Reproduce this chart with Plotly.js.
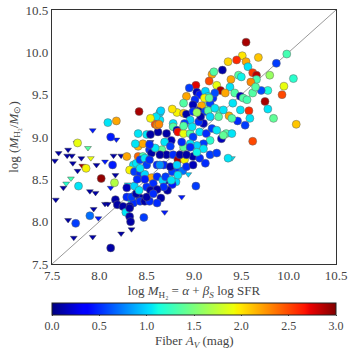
<!DOCTYPE html>
<html>
<head>
<meta charset="utf-8">
<script src="https://cdn.plot.ly/plotly-3.0.1.min.js"></script>
<style>
  html, body { margin: 0; padding: 0; background: #fff; }
  #chart { width: 354px; height: 354px; }
</style>
</head>
<body>
<div id="chart"></div>
<script>
// detections (circles): x = alpha + beta_S log SFR, y = log M_H2, colour = fiber A_V
const circX = [
  9.55, 9.51, 9.68, 9.45, 9.36, 9.55, 9.57, 9.98, 9.87, 9.30, 9.19, 9.21, 9.16, 9.02, 9.39, 9.47,
  9.50, 9.62, 9.66, 9.66, 9.60, 9.80, 10.05, 9.95, 9.78, 9.71, 9.93, 9.75, 9.78, 9.84, 10.08, 9.58,
  9.49, 9.62, 9.46, 9.54, 9.36, 9.24, 9.28, 9.38, 9.33, 8.95, 8.92, 9.03, 9.06, 9.12, 9.15, 9.20,
  9.22, 9.43, 9.49, 9.52, 9.56, 9.62, 9.65, 8.89, 9.01, 8.99, 9.06, 9.12, 9.17, 9.27, 9.37, 9.41,
  9.59, 9.08, 9.11, 9.16, 8.82, 8.77, 8.89, 8.92, 8.99, 9.05, 9.12, 9.15, 9.31, 9.17, 9.10, 9.05,
  8.96, 8.90, 8.78, 8.64, 8.64, 8.60, 8.59, 8.78, 8.62, 8.71, 8.82, 8.83, 8.89, 8.96, 8.99, 9.06,
  9.13, 9.19, 9.24, 9.34, 9.29, 9.40, 9.17, 9.10, 9.03, 8.96, 8.89, 8.87, 8.76, 8.69, 8.75, 8.66,
  8.53, 8.71, 8.78, 8.83, 8.90, 8.99, 9.06, 9.12, 9.17, 8.85, 8.82, 8.77, 8.88, 8.81, 8.70, 8.77,
  8.72, 8.65, 9.02, 8.68, 8.42, 8.54, 8.65, 8.09, 8.18, 8.12, 7.77, 8.50, 8.54, 8.61, 8.41, 8.46,
  8.29, 8.41, 8.46, 8.55, 8.64, 8.14, 7.86, 8.36, 8.39, 8.43, 8.48, 8.50, 8.53, 8.61, 8.32, 8.37,
  8.43, 8.48, 8.55, 8.61, 8.67, 8.70, 8.76, 8.57, 8.50, 8.54, 8.68, 8.61, 8.43, 8.34, 8.36, 8.43,
  8.48, 8.53, 8.61, 8.32, 8.02, 8.16, 7.78, 7.90, 7.75, 8.12, 8.47, 8.17, 8.19, 8.25, 8.28, 8.32,
  8.32, 8.33, 8.29, 8.34, 8.39, 8.50, 8.57, 8.29, 8.37, 8.48, 8.40, 8.42, 8.98, 9.31, 9.10, 8.96,
  9.03, 8.92, 8.41, 8.64, 8.43, 9.40, 9.26, 9.22, 8.59, 8.53, 9.24, 8.75, 8.82, 8.92, 8.99, 8.38,
  8.83, 9.07, 9.03, 8.89, 8.63
];
const circY = [
  10.12, 9.96, 9.94, 9.91, 9.89, 9.89, 9.83, 9.98, 9.87, 9.79, 9.74, 9.77, 9.66, 9.61, 9.68, 9.73,
  9.71, 9.76, 9.73, 9.68, 9.65, 9.73, 9.69, 9.60, 9.55, 9.55, 9.50, 9.42, 9.33, 9.22, 9.15, 9.31,
  9.32, 8.95, 9.19, 9.14, 8.75, 9.61, 9.55, 9.59, 9.52, 9.58, 9.48, 9.53, 9.50, 9.54, 9.48, 9.46,
  9.52, 9.52, 9.48, 9.46, 9.44, 9.52, 9.59, 9.40, 9.44, 9.38, 9.32, 9.36, 9.40, 9.31, 9.25, 9.40,
  9.22, 9.37, 9.46, 9.46, 9.29, 9.33, 9.28, 9.27, 9.30, 9.30, 9.30, 9.31, 9.32, 9.24, 9.16, 9.18,
  9.20, 9.16, 9.16, 9.20, 9.29, 9.24, 9.15, 9.12, 9.06, 9.04, 9.08, 9.06, 9.04, 9.04, 9.00, 9.06,
  9.04, 9.10, 9.08, 9.04, 8.98, 9.04, 8.96, 8.92, 8.90, 8.92, 8.88, 8.94, 8.96, 8.94, 8.89, 8.85,
  8.85, 8.79, 8.79, 8.73, 8.73, 8.77, 8.75, 8.69, 8.79, 8.79, 8.61, 8.59, 8.60, 8.47, 8.49, 8.44,
  8.37, 8.28, 8.42, 8.67, 9.30, 9.22, 9.31, 9.17, 9.19, 9.00, 8.93, 9.03, 9.03, 9.14, 8.89, 8.92,
  8.77, 8.77, 8.77, 8.81, 8.79, 8.67, 8.63, 8.67, 8.69, 8.73, 8.75, 8.67, 8.73, 8.67, 8.61, 8.59,
  8.57, 8.56, 8.52, 8.53, 8.49, 8.53, 8.49, 8.45, 8.41, 8.37, 8.41, 8.38, 8.28, 8.26, 8.22, 8.24,
  8.24, 8.24, 8.22, 8.18, 8.51, 8.46, 8.42, 8.07, 7.98, 7.69, 8.05, 8.26, 8.20, 8.18, 8.11, 8.16,
  8.06, 8.00, 8.29, 8.29, 8.33, 8.29, 8.33, 8.40, 8.42, 8.50, 8.50, 8.37, 9.12, 9.02, 8.86, 8.88,
  8.82, 8.79, 9.04, 8.67, 8.63, 9.22, 9.24, 9.34, 8.87, 8.91, 8.81, 8.65, 8.67, 8.65, 8.67, 8.92,
  8.55, 9.24, 9.29, 9.13, 9.15
];
const circAV = [
  2.9, 2.0, 2.1, 2.6, 2.05, 2.2, 1.05, 1.3, 0.55, 0.1, 2.2, 1.35, 2.5, 2.75, 2.2, 1.35,
  1.1, 2.55, 2.85, 1.3, 2.3, 1.6, 1.2, 1.9, 1.15, 0.6, 2.5, 2.9, 1.05, 1.4, 2.1, 2.6,
  1.05, 2.5, 0.5, 0.55, 1.05, 1.9, 2.9, 1.05, 2.2, 0.55, 2.2, 0.15, 0.45, 1.0, 1.05, 0.5,
  0.6, 1.35, 0.15, 1.35, 1.3, 1.35, 1.35, 1.35, 0.5, 0.15, 0.1, 1.4, 0.55, 1.35, 2.2, 1.05,
  1.05, 2.2, 1.95, 1.4, 1.95, 2.0, 2.1, 0.1, 0.5, 0.15, 0.55, 1.35, 1.05, 1.0, 0.15, 0.5,
  1.0, 0.55, 1.05, 1.05, 1.0, 1.05, 2.5, 1.35, 0.1, 0.1, 0.15, 2.7, 1.9, 1.35, 0.55, 1.05,
  0.5, 0.55, 1.05, 1.35, 0.15, 1.05, 1.2, 0.55, 1.0, 1.05, 1.4, 0.5, 0.15, 1.05, 0.55, 1.4,
  0.5, 0.1, 0.5, 2.9, 1.95, 0.1, 0.5, 0.5, 0.55, 0.1, 0.5, 0.55, 0.7, 1.0, 0.1, 0.45,
  0.1, 0.1, 0.55, 0.5, 2.9, 1.95, 1.0, 1.05, 2.2, 0.45, 1.9, 1.05, 0.1, 2.3, 2.15, 2.2,
  2.2, 2.4, 1.3, 0.1, 0.1, 0.45, 1.95, 1.05, 1.05, 0.55, 1.05, 0.55, 0.5, 0.5, 1.95, 0.55,
  0.5, 1.0, 2.2, 0.5, 1.0, 0.55, 1.05, 0.5, 0.5, 0.1, 0.5, 0.1, 0.1, 1.05, 0.5, 0.5,
  0.1, 0.5, 0.5, 0.1, 2.95, 1.7, 1.05, 0.7, 0.55, 0.1, 0.55, 0.1, 0.1, 0.1, 1.05, 0.1,
  0.1, 0.1, 0.5, 0.55, 0.1, 0.1, 0.5, 0.15, 1.0, 0.45, 0.5, 1.05, 1.05, 1.4, 1.05, 0.5,
  1.1, 0.1, 1.05, 0.8, 1.05, 1.35, 1.35, 1.05, 1.05, 0.5, 0.55, 0.1, 1.0, 0.5, 0.15, 1.05,
  1.05, 0.1, 1.6, 1.35, 2.3
];

// upper limits (downward triangles)
const triX = [
  7.93, 7.88, 7.76, 7.57, 7.67, 7.71, 7.81, 7.91, 7.53, 7.72, 7.82, 7.77, 8.06, 8.15, 8.23, 8.17,
  7.70, 7.65, 7.62, 7.54, 7.90, 7.96, 8.12, 8.06, 8.09, 7.94, 7.67, 7.99, 8.34, 8.23, 7.93, 7.73,
  8.18, 8.54, 8.30, 8.43, 8.87, 8.69, 9.40, 8.94, 7.97, 7.66
];
const triY = [
  9.08, 8.87, 8.93, 8.81, 8.85, 8.78, 8.75, 8.75, 8.72, 8.69, 8.66, 8.60, 8.71, 8.78, 8.78, 8.55,
  8.51, 8.45, 8.40, 8.26, 8.36, 8.34, 8.40, 8.21, 8.21, 8.15, 8.02, 8.04, 7.91, 7.86, 7.82, 7.81,
  8.97, 8.94, 8.44, 8.50, 8.29, 8.11, 8.75, 8.56, 8.67, 8.78
];
const triAV = [
  0.45, 1.35, 0.1, 0.1, 0.1, 0.1, 0.1, 1.9, 0.1, 0.1, 2.9, 0.1, 0.45, 0.1, 0.1, 0.1,
  1.3, 1.2, 0.1, 0.1, 0.1, 0.1, 0.45, 0.1, 0.1, 0.1, 0.1, 0.45, 0.1, 0.1, 0.1, 0.1,
  0.45, 0.1, 1.05, 0.45, 0.45, 0.45, 1.05, 1.0, 0.1, 0.1
];

const diagX = [7.5, 10.5];
const diagY = [7.5, 10.5];
const avTicks = [0, 0.5, 1, 1.5, 2, 2.5, 3];
const avTickText = ["0.0", "0.5", "1.0", "1.5", "2.0", "2.5", "3.0"];
const axTicks = [7.5, 8.0, 8.5, 9.0, 9.5, 10.0, 10.5];
const axTickText = ["7.5", "8.0", "8.5", "9.0", "9.5", "10.0", "10.5"];

// matplotlib "jet"
const jet = [
  [0, "rgb(0,0,128)"], [0.11, "rgb(0,0,255)"], [0.125, "rgb(0,0,255)"],
  [0.34, "rgb(0,219,255)"], [0.35, "rgb(0,229,247)"], [0.375, "rgb(20,255,226)"],
  [0.64, "rgb(239,255,8)"], [0.65, "rgb(247,245,0)"], [0.66, "rgb(255,236,0)"],
  [0.89, "rgb(255,19,0)"], [0.91, "rgb(232,0,0)"], [1, "rgb(128,0,0)"]
];

const font = "Liberation Serif, Times New Roman, serif";
const textCol = "#444";

const traces = [
  {
    type: "scatter", mode: "lines", x: diagX, y: diagY,
    line: { color: "#999", width: 1 }, hoverinfo: "skip", showlegend: false
  },
  {
    type: "scatter", mode: "markers", x: triX, y: triY, showlegend: false,
    marker: {
      symbol: "triangle-down", size: 6, color: triAV, coloraxis: "coloraxis",
      line: { color: "#333", width: 0.4 }
    }
  },
  {
    type: "scatter", mode: "markers", x: circX, y: circY, showlegend: false,
    marker: {
      symbol: "circle", size: 8, color: circAV, coloraxis: "coloraxis",
      line: { color: "#666", width: 0.5 }
    }
  }
];

const layout = {
  width: 354, height: 354,
  margin: { l: 52, r: 18, t: 10, b: 90, autoexpand: false },
  paper_bgcolor: "#fff", plot_bgcolor: "#fff",
  font: { family: font, size: 13, color: textCol },
  xaxis: {
    range: [7.5, 10.5], tickvals: axTicks, ticktext: axTickText,
    showgrid: false, zeroline: false, showline: true, mirror: true,
    linecolor: "#333", linewidth: 1.2, ticks: "", fixedrange: true,
    automargin: false, ticklabelstandoff: -1,
    tickfont: { family: font, size: 13, color: textCol },
    title: {
      text: "log <i>M</i><sub>H₂</sub> = <i>α</i> + <i>β<sub>S</sub></i> log SFR",
      font: { family: font, size: 13, color: textCol }, standoff: 0
    }
  },
  yaxis: {
    range: [7.5, 10.5], tickvals: axTicks, ticktext: axTickText,
    showgrid: false, zeroline: false, showline: true, mirror: true,
    linecolor: "#333", linewidth: 1.2, ticks: "", fixedrange: true,
    automargin: false,
    tickfont: { family: font, size: 13, color: textCol },
    title: {
      text: "log (<i>M</i><sub>H₂</sub>/<i>M</i><sub>⊙</sub>)",
      font: { family: font, size: 13, color: textCol }, standoff: 4
    }
  },
  coloraxis: {
    colorscale: jet, cmin: 0, cmax: 3,
    colorbar: {
      orientation: "h", x: 0, xanchor: "left", len: 1, lenmode: "fraction",
      y: -0.154, yanchor: "top", thickness: 12, thicknessmode: "pixels",
      xpad: 0, ypad: 0, outlinecolor: "#222", outlinewidth: 1,
      tickvals: avTicks, ticktext: avTickText, ticks: "outside", ticklen: 1,
      tickcolor: "#444",
      tickfont: { family: font, size: 12, color: textCol }
    }
  },
  annotations: [
    {
      xref: "paper", yref: "paper", x: 0.5, y: -0.306, xanchor: "center", yanchor: "middle",
      text: "Fiber <i>A<sub>V</sub></i> (mag)", showarrow: false,
      font: { family: font, size: 13, color: textCol }
    }
  ]
};

Plotly.newPlot("chart", traces, layout, { displayModeBar: false, staticPlot: true });
</script>
</body>
</html>
